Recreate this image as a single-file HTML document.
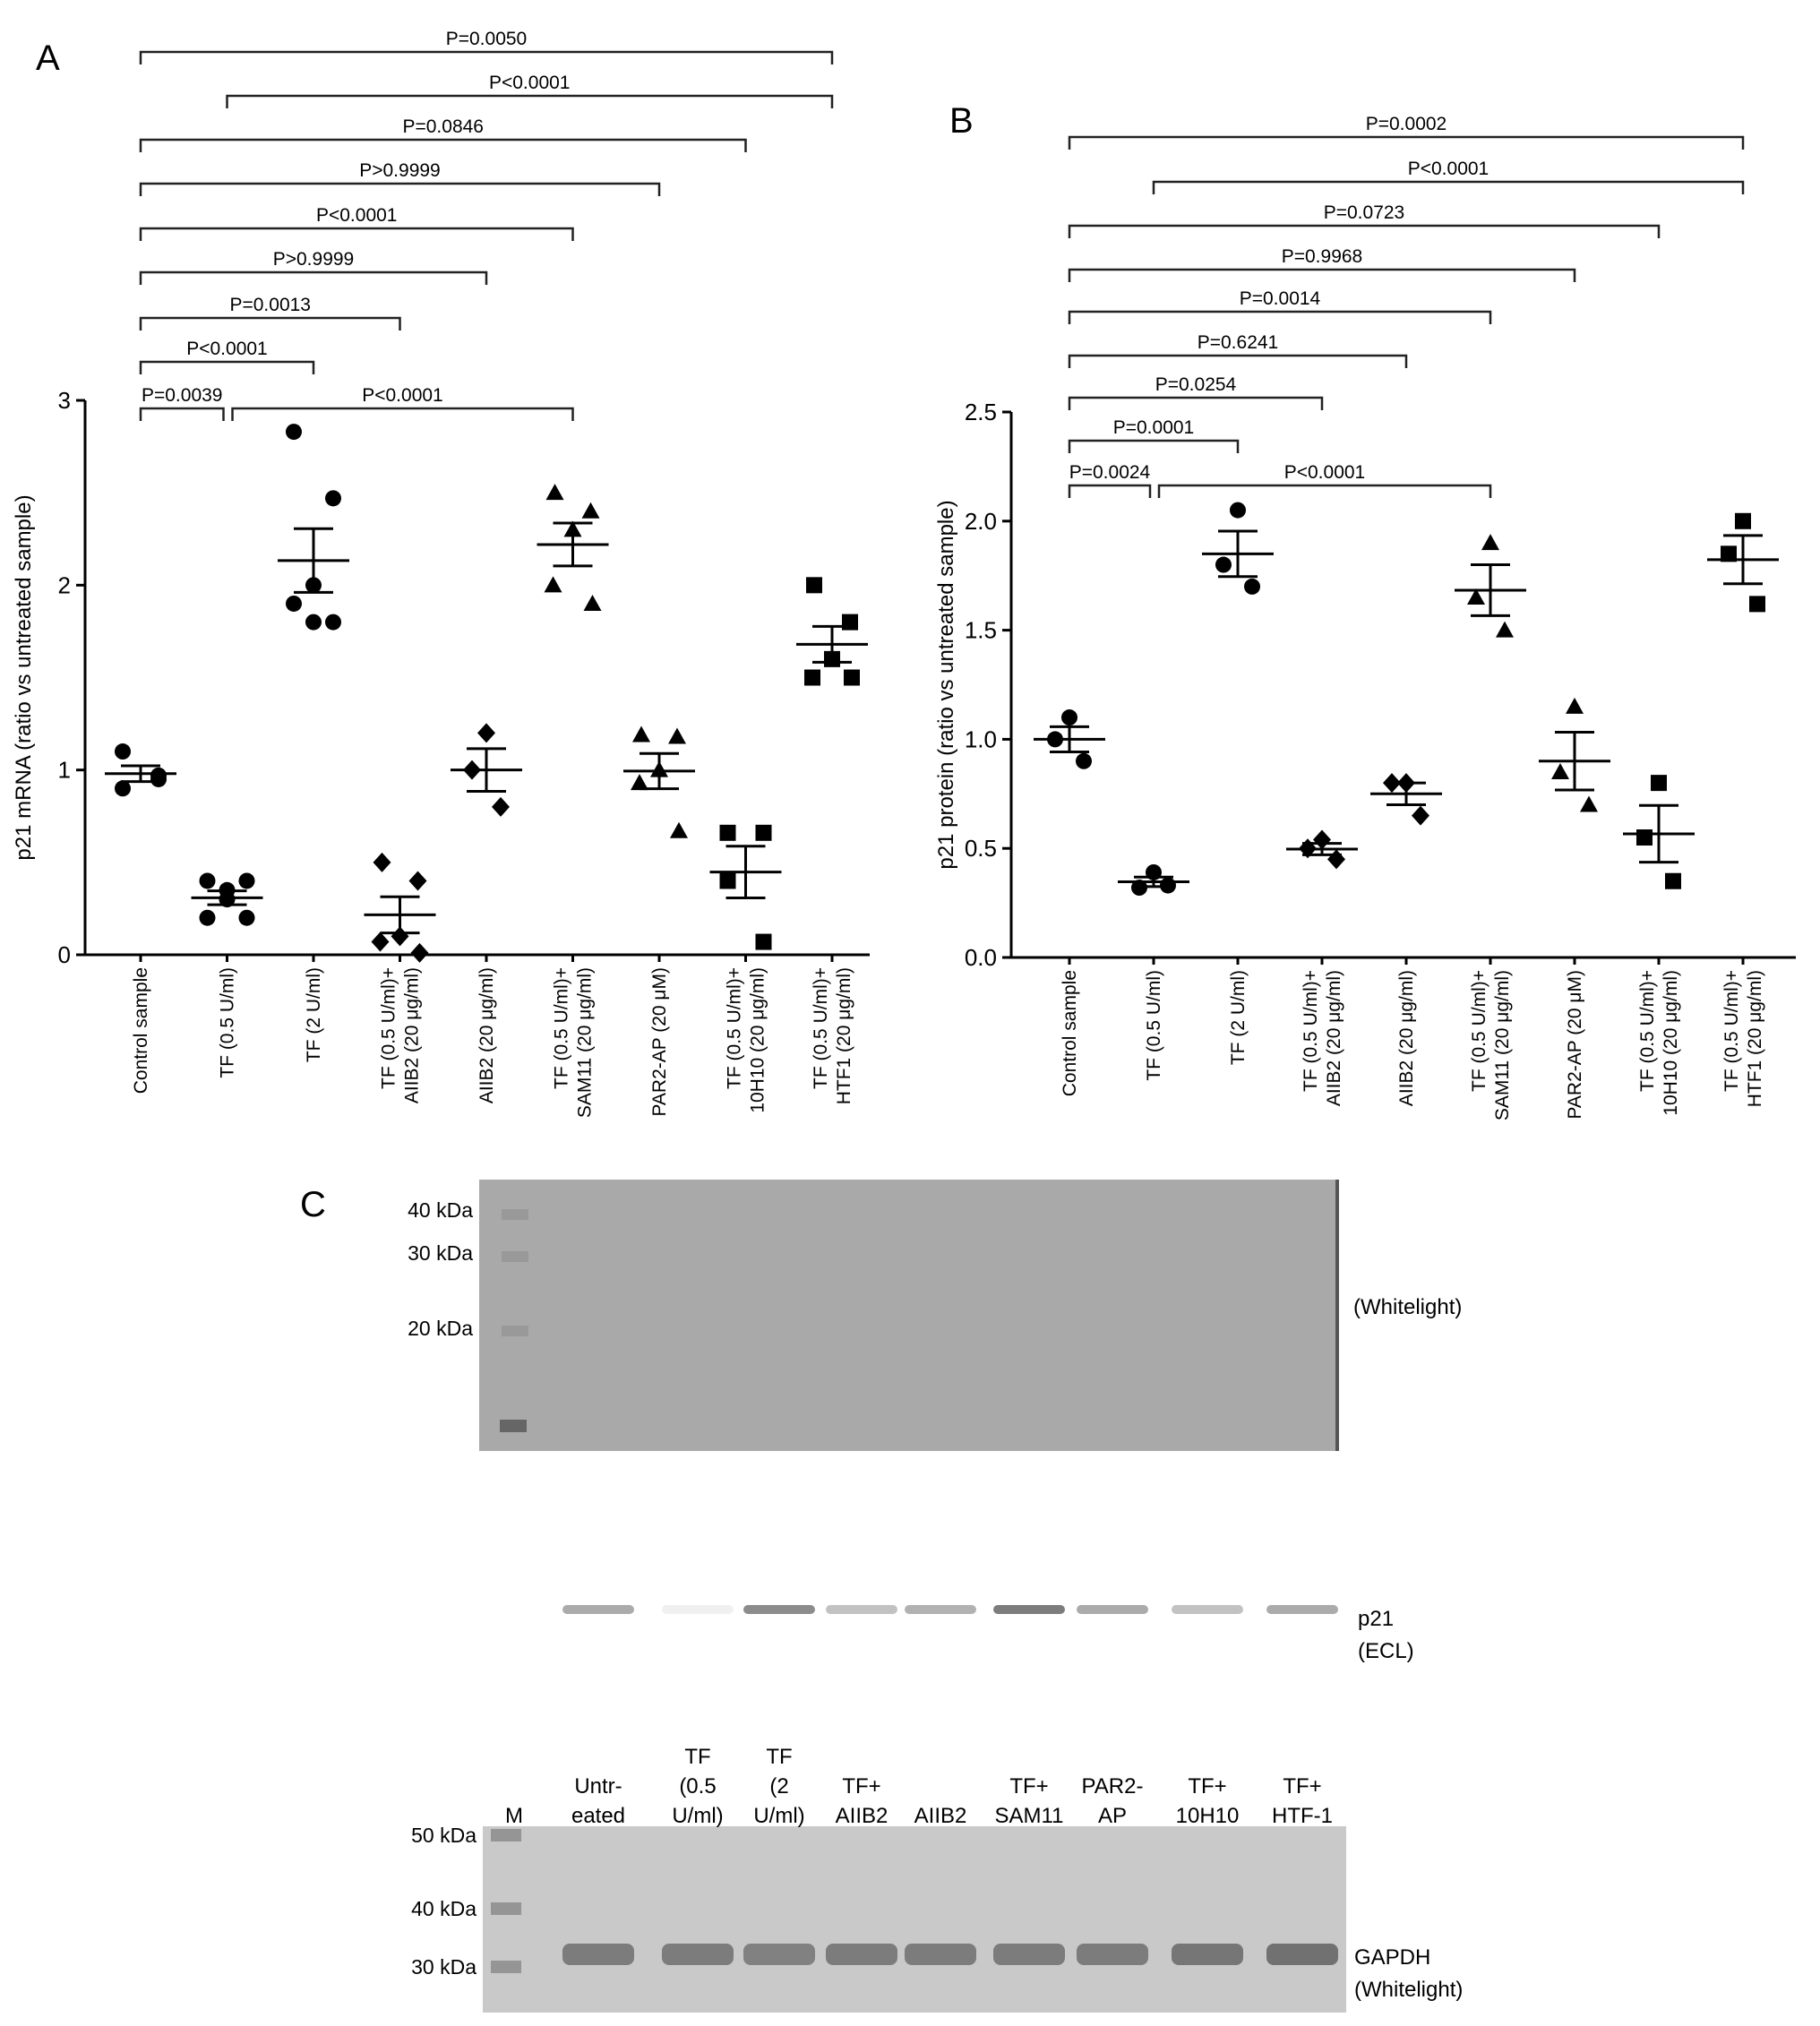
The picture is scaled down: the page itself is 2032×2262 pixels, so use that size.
<!DOCTYPE html>
<html><head><meta charset="utf-8"><style>
html,body{margin:0;padding:0;background:#fff;}
svg{display:block;font-family:"Liberation Sans",sans-serif;}
</style></head><body>
<svg id="fig" width="2032" height="2262" viewBox="0 0 2032 2262" xmlns="http://www.w3.org/2000/svg">
<text x="40" y="78" font-size="40">A</text>
<text x="1060" y="148" font-size="40">B</text>
<text x="335" y="1358" font-size="40">C</text>
<g id="panelA"></g>
<g id="panelB"></g>
<g id="panelC">
 <rect x="535" y="1317" width="960" height="303" fill="#a9a9a9"/>
 <rect x="1491" y="1317" width="4" height="303" fill="#555"/>
 <rect x="560" y="1350" width="30" height="12" fill="#999"/>
 <rect x="560" y="1397" width="30" height="12" fill="#999"/>
 <rect x="560" y="1480" width="30" height="12" fill="#999"/>
 <rect x="558" y="1585" width="30" height="14" fill="#666"/>
 <rect x="539" y="2039" width="964" height="208" fill="#c9c9c9"/>
</g>
<g font-size="23" text-anchor="end" font-family="'Liberation Sans Narrow','Liberation Sans',sans-serif">
 <text x="528" y="1359">40 kDa</text>
 <text x="528" y="1407">30 kDa</text>
 <text x="528" y="1491">20 kDa</text>
 <text x="532" y="2057">50 kDa</text>
 <text x="532" y="2139">40 kDa</text>
 <text x="532" y="2204">30 kDa</text>
</g>
<g font-size="24" font-family="'Liberation Sans Narrow','Liberation Sans',sans-serif">
 <text x="1511" y="1467">(Whitelight)</text>
 <text x="1516" y="1815">p21</text>
 <text x="1516" y="1851">(ECL)</text>
 <text x="1512" y="2193">GAPDH</text>
 <text x="1512" y="2229">(Whitelight)</text>
</g>
<g id="lanes" font-size="24" text-anchor="middle" font-family="'Liberation Sans Narrow','Liberation Sans',sans-serif"></g>
</svg>
<script>
const NS="http://www.w3.org/2000/svg";
const catLines=[["Control sample"],["TF (0.5 U/ml)"],["TF (2 U/ml)"],["TF (0.5 U/ml)+","AIIB2 (20 \u03bcg/ml)"],["AIIB2 (20 \u03bcg/ml)"],["TF (0.5 U/ml)+","SAM11 (20 \u03bcg/ml)"],["PAR2-AP (20 \u03bcM)"],["TF (0.5 U/ml)+","10H10 (20 \u03bcg/ml)"],["TF (0.5 U/ml)+","HTF1 (20 \u03bcg/ml)"]];
const markers=["circle","circle","circle","diamond","diamond","triangle","triangle","square","square"];
const dataA=[[0.9,0.95,1.1,0.97],[0.4,0.4,0.35,0.2,0.2,0.3],[2.83,2.47,2.0,1.9,1.8,1.8],[0.5,0.4,0.1,0.07,0.01],[1.2,1.0,0.8],[2.5,2.4,2.3,2.0,1.9],[1.19,1.18,1.0,0.93,0.67],[0.66,0.66,0.4,0.07],[2.0,1.8,1.6,1.5,1.5]];
const dataB=[[1.1,1.0,0.9],[0.39,0.32,0.33],[2.05,1.8,1.7],[0.54,0.5,0.45],[0.8,0.8,0.65],[1.9,1.65,1.5],[1.15,0.85,0.7],[0.8,0.55,0.35],[2.0,1.85,1.62]];
const ticksA=["0","1","2","3"];
const ticksB=["0.0","0.5","1.0","1.5","2.0","2.5"];
const pA=["P=0.0050","P<0.0001","P=0.0846","P>0.9999","P<0.0001","P>0.9999","P=0.0013","P<0.0001","P=0.0039","P<0.0001"];
const pAfrom=[0,1,0,0,0,0,0,0,0,1];
const pAto=[8,8,7,6,5,4,3,2,1,5];
const pB=["P=0.0002","P<0.0001","P=0.0723","P=0.9968","P=0.0014","P=0.6241","P=0.0254","P=0.0001","P=0.0024","P<0.0001"];
const pBfrom=[0,1,0,0,0,0,0,0,0,1];
const pBto=[8,8,7,6,5,4,3,2,1,5];
const laneLabels=[["","","M"],["","Untr-","eated"],["TF","(0.5","U/ml)"],["TF","(2","U/ml)"],["","TF+","AIIB2"],["","","AIIB2"],["","TF+","SAM11"],["","PAR2-","AP"],["","TF+","10H10"],["","TF+","HTF-1"]];
const p21Band=[0.55,0.1,0.75,0.4,0.5,0.85,0.55,0.4,0.55];
const gapdhBand=[0.7,0.7,0.65,0.7,0.7,0.7,0.7,0.75,0.8];

function el(parent,tag,attrs){const e=document.createElementNS(NS,tag);for(const k in attrs)e.setAttribute(k,attrs[k]);parent.appendChild(e);return e;}

function drawPanel(g,cfg){
  const {x0,x1,y0,yTop,yMax,catX,data,ticks,tickStep,pLabels,pFrom,pTo,bracketY,title}=cfg;
  const yS=v=>y0-(v/yMax)*(y0-yTop);
  const xS=i=>catX[0]+i*(catX[1]-catX[0]);
  let a=el(g,"line",{x1:x0,y1:yTop,x2:x0,y2:y0+1,stroke:"#000","stroke-width":3});
  
  
  a=el(g,"line",{x1:x0,y1:y0,x2:x1,y2:y0,stroke:"#000","stroke-width":3});
  
  
  ticks.forEach((t,i)=>{const y=yS(i*tickStep);
    const l=el(g,"line",{x1:x0-10,y1:y,x2:x0,y2:y,stroke:"#000","stroke-width":3});
    
    
    const tx=el(g,"text",{x:x0-16,y:y+9,"font-size":26,"text-anchor":"end"});tx.textContent=t;
    
    
  });
  const tt=el(g,"text",{x:0,y:0,"font-size":24,"text-anchor":"middle",transform:`translate(${cfg.titleX},${(yTop+y0)/2}) rotate(-90)`});tt.textContent=title;
  
  
  catLines.forEach((lines,i)=>{const x=xS(i);
    const tk=el(g,"line",{x1:x,y1:y0,x2:x,y2:y0+8,stroke:"#000","stroke-width":3});
    
    
    lines.forEach((ln,j)=>{const off=(j-(lines.length-1)/2)*26;
      const t=el(g,"text",{x:0,y:0,"font-size":21,"text-anchor":"end",transform:`translate(${x+7+off},${y0+14}) rotate(-90)`});t.textContent=ln;
      
      
    });
  });
  data.forEach((vals,i)=>{const cx=xS(i);
    const n=vals.length;const mean=vals.reduce((s,v)=>s+v,0)/n;
    const sd=Math.sqrt(vals.reduce((s,v)=>s+(v-mean)*(v-mean),0)/(n-1));const sem=sd/Math.sqrt(n);
    vals.forEach((v,k)=>{
      const pts=(n===3)?[0,-16,16]:(n===4?[-20,20,-20,20]:(n===5?[-20,20,0,-22,22]:[-22,22,0,-22,22,0]));
      const x=cx+pts[k],y=yS(v);const m=markers[i];let s;
      if(m==="circle")s=el(g,"circle",{cx:x,cy:y,r:9,fill:"#000"});
      else if(m==="square")s=el(g,"rect",{x:x-9,y:y-9,width:18,height:18,fill:"#000"});
      else if(m==="triangle")s=el(g,"polygon",{points:`${x},${y-10} ${x-10},${y+8} ${x+10},${y+8}`,fill:"#000"});
      else s=el(g,"polygon",{points:`${x},${y-11} ${x-10},${y} ${x},${y+11} ${x+10},${y}`,fill:"#000"});
      
      
    });
    const ym=yS(mean);
    let l=el(g,"line",{x1:cx-40,y1:ym,x2:cx+40,y2:ym,stroke:"#000","stroke-width":3});
    
    
    [mean+sem,mean-sem].forEach(v=>{const y=yS(v);
      const c=el(g,"line",{x1:cx-22,y1:y,x2:cx+22,y2:y,stroke:"#000","stroke-width":3});
      
      
    });
    const vline=el(g,"line",{x1:cx,y1:yS(mean+sem),x2:cx,y2:yS(mean-sem),stroke:"#000","stroke-width":3});
    
    
  });
  pLabels.forEach((lab,i)=>{const y=bracketY[i];let xa=xS(pFrom[i]),xb=xS(pTo[i]);
    if(i===8)xb=xS(1)-4; if(i===9)xa=xS(1)+6;
    const pth=el(g,"path",{d:`M${xa},${y+14} V${y} H${xb} V${y+14}`,fill:"none",stroke:"#222","stroke-width":2.5});
    
    
    const t=el(g,"text",{x:(xa+xb)/2,y:y-8,"font-size":21,"text-anchor":"middle"});t.textContent=lab;
    
    
  });
}
const xsA=[157,253.5],xsB=[1194,1288];
drawPanel(document.getElementById("panelA"),{x0:95,x1:971,y0:1066,yTop:447,yMax:3,catX:xsA,data:dataA,ticks:ticksA,tickStep:1,pLabels:pA,pFrom:pAfrom,pTo:pAto,bracketY:[58,107,156,205,255,304,355,404,456,456],title:"p21 mRNA (ratio vs untreated sample)",titleX:34});
drawPanel(document.getElementById("panelB"),{x0:1129,x1:2005,y0:1069,yTop:460,yMax:2.5,catX:xsB,data:dataB,ticks:ticksB,tickStep:0.5,pLabels:pB,pFrom:pBfrom,pTo:pBto,bracketY:[153,203,252,301,348,397,444,492,542,542],title:"p21 protein (ratio vs untreated sample)",titleX:1064});

const laneX=[574,668,779,870,962,1050,1149,1242,1348,1454];
const lg=document.getElementById("lanes");
laneLabels.forEach((lines,i)=>{lines.forEach((ln,j)=>{if(!ln)return;
  const t=el(lg,"text",{x:laneX[i],y:1969+j*33});t.textContent=ln;
  
  
});});
const pc=document.getElementById("panelC");
p21Band.forEach((v,k)=>{const x=laneX[k+1];
  const b=el(pc,"rect",{x:x-40,y:1792,width:80,height:10,rx:5,fill:"#000",opacity:v*0.6});
  
  
});
gapdhBand.forEach((v,k)=>{const x=laneX[k+1];
  const b=el(pc,"rect",{x:x-40,y:2170,width:80,height:24,rx:8,fill:"#000",opacity:v*0.55});
  
  
});
[2049,2131,2196].forEach(y=>{const b=el(pc,"rect",{x:548,y:y-7,width:34,height:14,fill:"#888",opacity:0.8});
  
  
});
</script>
</body></html>
